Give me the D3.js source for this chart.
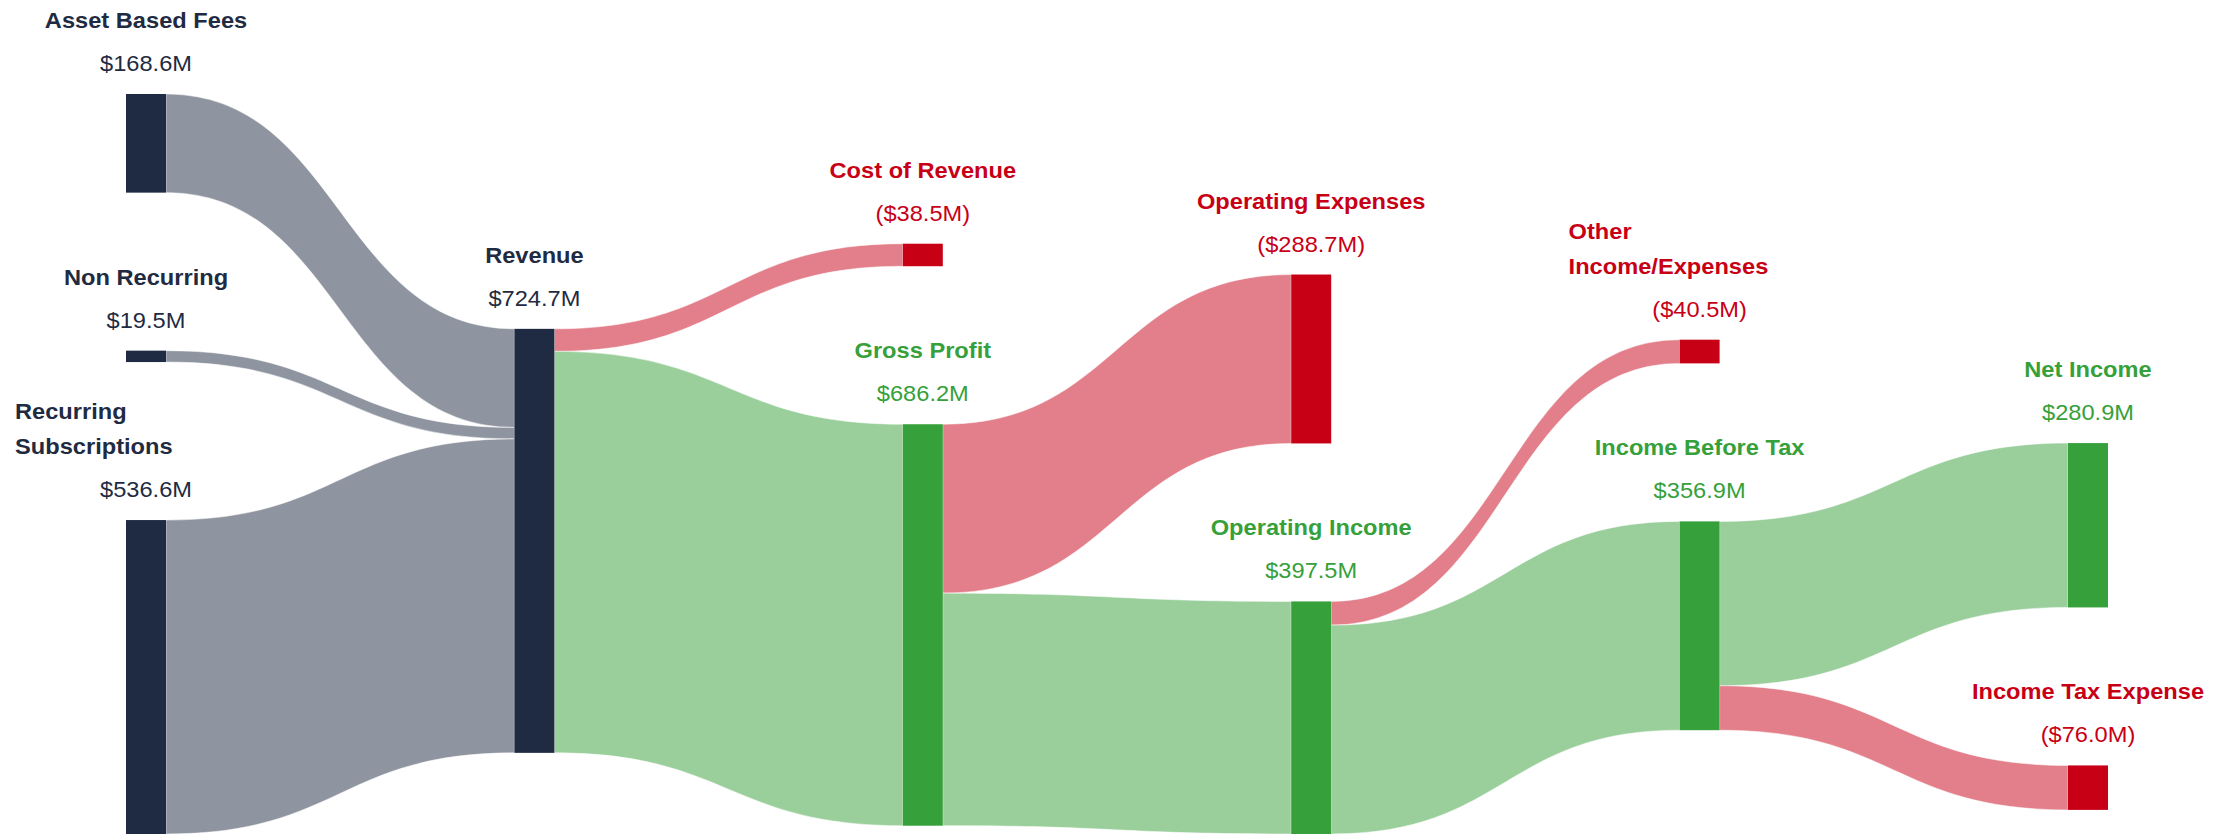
<!DOCTYPE html>
<html>
<head>
<meta charset="utf-8">
<script src="https://cdn.jsdelivr.net/npm/d3@7"></script>
<style>
  html, body { margin: 0; padding: 0; background: #fff; }
  svg { display: block; font-family: "Liberation Sans", Arial, Helvetica, sans-serif; }
</style>
</head>
<body>
<div id="chart"></div>
<script>
// ---- data ----
const nodeNames = [
  "Asset Based Fees", "Non Recurring", "Recurring Subscriptions", "Revenue",
  "Cost of Revenue", "Gross Profit", "Operating Expenses", "Operating Income",
  "Other Income/Expenses", "Income Before Tax", "Net Income", "Income Tax Expense"
];
const nodeKinds = [
  "input", "input", "input", "input",
  "cost", "profit", "cost", "profit",
  "cost", "profit", "profit", "cost"
];
const linkSources = [0, 1, 2, 3, 3, 5, 5, 7, 7, 9, 9];
const linkTargets = [3, 3, 3, 4, 5, 6, 7, 8, 9, 10, 11];
const linkValues  = [168.6, 19.5, 536.6, 38.5, 686.2, 288.7, 397.5, 40.5, 356.9, 280.9, 76.0];

// ---- layout settings ----
const width = 2236, height = 836;
const extentLeft = 126, extentRight = 2108;
const extentTop = 94, extentBottom = 834;
const nodeWidth = 40, nodePadding = 158;
const iterations = 5;

const colors = { input: "#1f2b42", cost: "#c80016", profit: "#36a03a" };
const fmt = d3.format(".1f");

// ---- build graph ----
const nodes = nodeNames.map((name, i) => ({
  index: i, name, kind: nodeKinds[i], sourceLinks: [], targetLinks: []
}));
const links = linkValues.map((v, i) => ({
  index: i, source: nodes[linkSources[i]], target: nodes[linkTargets[i]], value: v
}));
links.forEach(l => { l.source.sourceLinks.push(l); l.target.targetLinks.push(l); });
nodes.forEach(n => {
  n.value = Math.max(d3.sum(n.sourceLinks, l => l.value), d3.sum(n.targetLinks, l => l.value));
});

// depth, nodes aligned left
{
  let current = new Set(nodes), next = new Set(), x = 0;
  while (current.size) {
    for (const node of current) {
      node.depth = x;
      for (const { target } of node.sourceLinks) next.add(target);
    }
    ++x;
    current = next;
    next = new Set();
  }
}
const nCols = d3.max(nodes, n => n.depth) + 1;
const columns = d3.range(nCols).map(() => []);
const colX = d3.scaleLinear()
  .domain([0, nCols - 1])
  .range([extentLeft, extentRight - nodeWidth]);
nodes.forEach(n => {
  columns[n.depth].push(n);   // keeps input order inside a column
  n.x0 = colX(n.depth);
  n.x1 = n.x0 + nodeWidth;
});

// ---- vertical placement (d3-sankey relaxation, node order kept) ----
const py = Math.min(nodePadding, (extentBottom - extentTop) / (d3.max(columns, c => c.length) - 1));
const ascendingBreadth = (a, b) => a.y0 - b.y0;
const ascSource = (a, b) => ascendingBreadth(a.source, b.source) || a.index - b.index;
const ascTarget = (a, b) => ascendingBreadth(a.target, b.target) || a.index - b.index;

function reorderLinks(col) {
  for (const { sourceLinks, targetLinks } of col) {
    sourceLinks.sort(ascTarget);
    targetLinks.sort(ascSource);
  }
}
function reorderNodeLinks({ sourceLinks, targetLinks }) {
  for (const { source: { sourceLinks } } of targetLinks) sourceLinks.sort(ascTarget);
  for (const { target: { targetLinks } } of sourceLinks) targetLinks.sort(ascSource);
}
function targetTop(source, target) {
  let y = source.y0 - (source.sourceLinks.length - 1) * py / 2;
  for (const { target: node, width } of source.sourceLinks) {
    if (node === target) break;
    y += width + py;
  }
  for (const { source: node, width } of target.targetLinks) {
    if (node === source) break;
    y -= width;
  }
  return y;
}
function sourceTop(source, target) {
  let y = target.y0 - (target.targetLinks.length - 1) * py / 2;
  for (const { source: node, width } of target.targetLinks) {
    if (node === source) break;
    y += width + py;
  }
  for (const { target: node, width } of source.sourceLinks) {
    if (node === target) break;
    y -= width;
  }
  return y;
}
function collideTopToBottom(col, y, i, alpha) {
  for (; i < col.length; ++i) {
    const node = col[i];
    const dy = (y - node.y0) * alpha;
    if (dy > 1e-6) { node.y0 += dy; node.y1 += dy; }
    y = node.y1 + py;
  }
}
function collideBottomToTop(col, y, i, alpha) {
  for (; i >= 0; --i) {
    const node = col[i];
    const dy = (node.y1 - y) * alpha;
    if (dy > 1e-6) { node.y0 -= dy; node.y1 -= dy; }
    y = node.y0 - py;
  }
}
function resolveCollisions(col, alpha) {
  const i = col.length >> 1;
  const subject = col[i];
  collideBottomToTop(col, subject.y0 - py, i - 1, alpha);
  collideTopToBottom(col, subject.y1 + py, i + 1, alpha);
  collideBottomToTop(col, extentBottom, col.length - 1, alpha);
  collideTopToBottom(col, extentTop, 0, alpha);
}

const ky = d3.min(columns, c => (extentBottom - extentTop - (c.length - 1) * py) / d3.sum(c, n => n.value));
for (const col of columns) {
  let y = extentTop;
  for (const node of col) {
    node.y0 = y;
    node.y1 = y + node.value * ky;
    y = node.y1 + py;
    for (const link of node.sourceLinks) link.width = link.value * ky;
  }
  y = (extentBottom - y + py) / (col.length + 1);
  col.forEach((node, i) => { node.y0 += y * (i + 1); node.y1 += y * (i + 1); });
  reorderLinks(col);
}

for (let it = 0; it < iterations; ++it) {
  const alpha = Math.pow(0.99, it);
  const beta = Math.max(1 - alpha, (it + 1) / iterations);
  // right to left
  for (let i = columns.length - 2; i >= 0; --i) {
    const col = columns[i];
    for (const source of col) {
      let y = 0, w = 0;
      for (const { target, value } of source.sourceLinks) {
        const v = value * (target.depth - source.depth);
        y += sourceTop(source, target) * v;
        w += v;
      }
      if (!(w > 0)) continue;
      const dy = (y / w - source.y0) * alpha;
      source.y0 += dy; source.y1 += dy;
      reorderNodeLinks(source);
    }
    resolveCollisions(col, beta);
  }
  // left to right
  for (let i = 1; i < columns.length; ++i) {
    const col = columns[i];
    for (const target of col) {
      let y = 0, w = 0;
      for (const { source, value } of target.targetLinks) {
        const v = value * (target.depth - source.depth);
        y += targetTop(source, target) * v;
        w += v;
      }
      if (!(w > 0)) continue;
      const dy = (y / w - target.y0) * alpha;
      target.y0 += dy; target.y1 += dy;
      reorderNodeLinks(target);
    }
    resolveCollisions(col, beta);
  }
}

// link offsets at each end
for (const node of nodes) {
  node.sourceLinks.sort(ascTarget);
  node.targetLinks.sort(ascSource);
}
for (const node of nodes) {
  let ys = node.y0, yt = node.y0;
  for (const l of node.sourceLinks) { l.sy = ys; ys += l.width; }
  for (const l of node.targetLinks) { l.ty = yt; yt += l.width; }
}

// ---- draw ----
const svg = d3.select("#chart").append("svg")
  .attr("width", width)
  .attr("height", height);

function bandPath(l) {
  const xs = l.source.x1, xt = l.target.x0, xm = (xs + xt) / 2;
  const p = d3.path();
  p.moveTo(xs, l.sy);
  p.bezierCurveTo(xm, l.sy, xm, l.ty, xt, l.ty);
  p.lineTo(xt, l.ty + l.width);
  p.bezierCurveTo(xm, l.ty + l.width, xm, l.sy + l.width, xs, l.sy + l.width);
  p.closePath();
  return p.toString();
}

svg.append("g")
  .selectAll("path")
  .data(links)
  .join("path")
  .attr("d", bandPath)
  .attr("fill", d => colors[d.target.kind])
  .attr("fill-opacity", 0.5)
  .attr("stroke", "#fff")
  .attr("stroke-width", 0.5);

svg.append("g")
  .selectAll("rect")
  .data(nodes)
  .join("rect")
  .attr("x", d => d.x0)
  .attr("y", d => d.y0)
  .attr("width", d => d.x1 - d.x0)
  .attr("height", d => d.y1 - d.y0)
  .attr("fill", d => colors[d.kind]);

// labels (the original text is slightly wide, hence the x stretch)
const fontSize = 22, stretch = 1.075;
const wrapWidth = 262;
const lineGap = 35, nameGap = 43, valueGap = 23;

const labels = svg.append("g")
  .selectAll("g")
  .data(nodes)
  .join("g")
  .attr("fill", d => colors[d.kind])
  .style("font-size", fontSize + "px");

labels.each(function (d) {
  const g = d3.select(this);
  const cx = (d.x0 + d.x1) / 2;
  const valueY = d.y0 - valueGap;
  g.append("text")
    .attr("transform", `translate(${cx},${valueY}) scale(${stretch},1)`)
    .attr("text-anchor", "middle")
    .text(d.kind === "cost" ? `($${fmt(d.value)}M)` : `$${fmt(d.value)}M`);

  const probe = g.append("text").attr("font-weight", "bold");
  const measure = t => { probe.text(t); return probe.node().getComputedTextLength() * stretch; };

  if (measure(d.name) <= wrapWidth) {
    probe.remove();
    g.append("text")
      .attr("font-weight", "bold")
      .attr("text-anchor", "middle")
      .attr("transform", `translate(${cx},${valueY - nameGap}) scale(${stretch},1)`)
      .text(d.name);
    return;
  }

  // long names wrap into lines, left aligned in a box centred on the node
  const lines = [];
  let line = [];
  for (const w of d.name.split(" ")) {
    if (line.length && measure([...line, w].join(" ")) > wrapWidth) {
      lines.push(line.join(" "));
      line = [w];
    } else {
      line.push(w);
    }
  }
  lines.push(line.join(" "));
  probe.remove();
  const left = cx - wrapWidth / 2;
  lines.forEach((t, i) => {
    const y = valueY - nameGap - (lines.length - 1 - i) * lineGap;
    g.append("text")
      .attr("font-weight", "bold")
      .attr("transform", `translate(${left},${y}) scale(${stretch},1)`)
      .text(t);
  });
});
</script>
</body>
</html>
